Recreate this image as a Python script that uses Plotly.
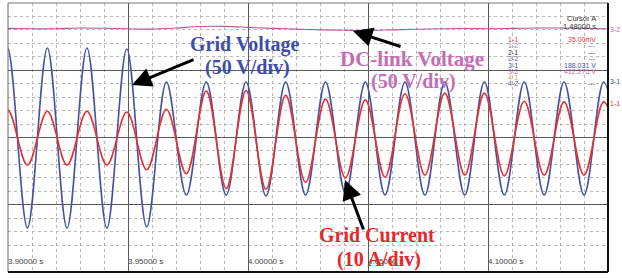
import plotly.graph_objects as go

# ---------------- data ----------------
# times (s) of the successive peaks / troughs of the grid waveforms
extrema_times = [3.8915, 3.8998, 3.9081, 3.9164, 3.9246, 3.9329, 3.9412, 3.9495,
                 3.9578, 3.9660, 3.9743, 3.9826, 3.9909, 3.9992, 4.0075, 4.0157,
                 4.0240, 4.0323, 4.0406, 4.0489, 4.0571, 4.0654, 4.0737, 4.0820,
                 4.0903, 4.0985, 4.1068, 4.1151, 4.1234, 4.1317, 4.1400, 4.1482,
                 4.1565]
# grid voltage (V) at those extrema
grid_voltage = [-67.0, 66.5, -67.3, 66.5, -67.3, 66.5, -67.3, 65.8,
                -66.5, 41.3, -42.8, 41.3, -42.8, 41.3, -43.5, 41.3,
                -42.8, 41.3, -41.3, 41.3, -42.8, 41.3, -42.8, 41.3,
                -42.8, 41.3, -42.8, 41.3, -42.8, 41.3, -42.8, 41.3,
                -42.8]
# grid current (A) at those extrema
grid_current = [-4.1, 4.1, -4.1, 3.9, -4.1, 3.9, -4.1, 3.8,
                -4.8, 4.2, -5.4, 6.9, -7.6, 7.0, -7.7, 6.3,
                -6.7, 5.7, -6.0, 5.6, -5.9, 6.5, -5.6, 6.6,
                -5.6, 6.6, -5.7, 5.4, -5.6, 5.3, -5.6, 5.3,
                -5.6]
# DC-link voltage (V)
dc_times = [3.90, 3.91, 3.92, 3.93, 3.94, 3.95, 3.96, 3.97, 3.98, 3.99,
            4.00, 4.01, 4.02, 4.03, 4.04, 4.05, 4.06, 4.07, 4.08, 4.09,
            4.10, 4.11, 4.12, 4.13, 4.14, 4.15]
dc_voltage = [412.4, 412.1, 412.2, 412.7, 412.5, 412.1, 411.9, 412.7, 413.8, 413.9,
              413.2, 412.4, 411.9, 411.3, 411.0, 410.9, 411.3, 411.8, 412.1, 412.3,
              412.2, 412.4, 412.7, 412.7, 412.4, 412.2]

tick_vals = [3.90, 3.95, 4.00, 4.05, 4.10]
tick_labels = ["3.90000 s", "3.95000 s", "4.00000 s", "4.05000 s", "4.10000 s"]

cursor_channels = ["1-1", "1-2", "2-1", "2-2", "3-1", "3-2", "4-1", "4-2"]
cursor_values = ["35.00mV", "---", "---", "---", "188.031 V", "412.275 V", "", "---"]
channel_colors = ["#e03a3a", "#a27ab6", "#333333", "#6d63a8", "#4452a2",
                  "#c070b4", "#e4a652", "#55608a"]

# ---------------- styling ----------------
BLUE = "#4552a3"
RED = "#e8312d"
PINK = "#b4579f"
W, H = 622, 278
L, R, T, B = 8, 14, 3, 6
PW, PH = W - L - R, H - T - B


def px(x, y):
    return (x - L) / PW, (H - B - y) / PH


fig = go.Figure()
fig.add_trace(go.Scatter(x=dc_times, y=dc_voltage, mode="lines", yaxis="y3",
                         line=dict(color=PINK, width=1.1, shape="spline"),
                         hoverinfo="skip"))
fig.add_trace(go.Scatter(x=extrema_times, y=grid_voltage, mode="lines", yaxis="y",
                         line=dict(color=BLUE, width=1.6, shape="spline", smoothing=1),
                         hoverinfo="skip"))
fig.add_trace(go.Scatter(x=extrema_times, y=grid_current, mode="lines", yaxis="y2",
                         line=dict(color=RED, width=1.6, shape="spline", smoothing=1),
                         hoverinfo="skip"))

grid_major = "#5a5a5a"
grid_minor = "#b8b8b8"

fig.update_layout(
    width=W, height=H, margin=dict(l=L, r=R, t=T, b=B),
    paper_bgcolor="white", plot_bgcolor="white", showlegend=False,
    xaxis=dict(range=[3.90, 4.15], tickvals=tick_vals, ticktext=tick_labels,
               ticklabelposition="inside right", ticks="",
               tickfont=dict(family="Liberation Sans", size=8, color="#444"),
               showgrid=True, gridcolor=grid_major, gridwidth=1, zeroline=False,
               showline=False,
               minor=dict(dtick=0.01, tick0=3.90, showgrid=True, gridcolor=grid_minor,
                          griddash="dot", gridwidth=1, ticks="")),
    yaxis=dict(range=[-100, 100], dtick=50, tick0=0, showticklabels=False, ticks="",
               showgrid=True, gridcolor=grid_major, gridwidth=1, zeroline=False,
               minor=dict(dtick=10, tick0=0, showgrid=True, gridcolor=grid_minor,
                          griddash="dot", gridwidth=1, ticks="")),
    yaxis2=dict(range=[-20, 20], overlaying="y", showgrid=False, zeroline=False,
                showticklabels=False, visible=False),
    yaxis3=dict(range=[231.3, 431.3], overlaying="y", showgrid=False, zeroline=False,
                showticklabels=False, visible=False),
)

# frame
fig.add_shape(type="line", xref="paper", yref="paper", x0=0, x1=0, y0=0, y1=1,
              line=dict(color="#666", width=1))
fig.add_shape(type="line", xref="paper", yref="paper", x0=0, x1=1, y0=1, y1=1,
              line=dict(color="#777", width=1))
fig.add_shape(type="line", xref="paper", yref="paper", x0=1, x1=1, y0=0, y1=1,
              line=dict(color="#111", width=2))
fig.add_shape(type="line", xref="paper", yref="paper", x0=0, x1=1, y0=0, y1=0,
              line=dict(color="#111", width=2))

ann = []


def text(x, y, s, color, size, family="Liberation Serif", xanchor="center", bold=False):
    xp, yp = px(x, y)
    ann.append(dict(xref="paper", yref="paper", x=xp, y=yp, text=("<b>%s</b>" % s) if bold else s,
                    showarrow=False, xanchor=xanchor, yanchor="middle",
                    font=dict(family=family, size=size, color=color)))


def arrow(tip, tail):
    xp, yp = px(*tip)
    ann.append(dict(xref="paper", yref="paper", x=xp, y=yp, text="", showarrow=True,
                    ax=tail[0] - tip[0], ay=tail[1] - tip[1], arrowhead=2,
                    arrowsize=1.3, arrowwidth=3, arrowcolor="black"))


TBLUE = "#3d4ea8"
TPINK = "#c46db5"
TRED = "#e8262a"
text(245, 44, "Grid Voltage", TBLUE, 20, bold=True)
text(247, 67, "(50 V/div)", TBLUE, 20, bold=True)
text(412, 59, "DC-link Voltage", TPINK, 21, bold=True)
text(413, 82, "(50 V/div)", TPINK, 20, bold=True)
text(377, 235, "Grid Current", TRED, 20, bold=True)
text(379, 259, "(10 A/div)", TRED, 20, bold=True)

arrow((132, 85), (195, 59))
arrow((353, 31), (402, 47))
arrow((345, 180), (364, 231))

SANS = "Liberation Sans"
text(598, 19, "Cursor A", "#333", 7.5, SANS, "right")
text(598, 26, "1.48000 s", "#333", 7.5, SANS, "right")
row_y = [39, 45.5, 52, 58.5, 65, 71.5, 77.5, 84]
for ch, val, col, yy in zip(cursor_channels, cursor_values, channel_colors, row_y):
    text(506, yy, ch, col, 7, SANS, "left")
    if val:
        text(598, yy, val, col, 7, SANS, "right")

text(608, 30, "3-2", TPINK, 7, SANS, "left")
text(608, 82, "3-1", BLUE, 7, SANS, "left")
text(608, 103, "1-1", RED, 7, SANS, "left")

fig.update_layout(annotations=ann)
fig.write_html("out.html", config={"displayModeBar": False},
               post_script="document.body.style.margin='0';")
